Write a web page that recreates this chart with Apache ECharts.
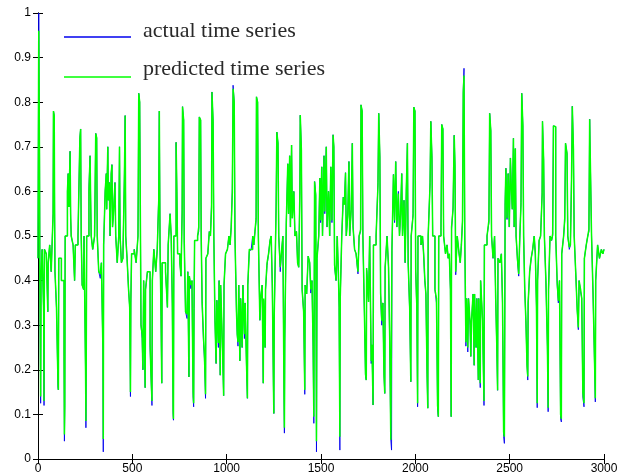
<!DOCTYPE html>
<html><head><meta charset="utf-8">
<script src="https://cdn.jsdelivr.net/npm/echarts@6/dist/echarts.min.js"></script>
<style>html,body{margin:0;padding:0;background:#fff}#c{width:623px;height:475px}</style>
</head><body><div id="c"></div>
<script>
var xTicks = [0, 500, 1000, 1500, 2000, 2500, 3000];
var yTicks = ['0', '0.1', '0.2', '0.3', '0.4', '0.5', '0.6', '0.7', '0.8', '0.9', '1'];
var seriesNames = ['actual time series', 'predicted time series'];

// segment A: t = 0 .. 752
var timesA = [0,3,4,8,10,13,14,16,22,30, 32,34,44,52,54,62,70,80,82,86, 88,90,98,106,108,110,124,138,140,142, 144,156,160,164,170,173,176,186,194,198, 212,222,226,229,234,242,244,252,254,256, 258,270,276,279,282,290,300,306,311,314, 322,330,336,344,346,348,356,362,364,370, 373,378,382,388,392,395,400,408,412,420, 428,432,435,442,450,458,462,465,472,480, 486,490,492,496,510,520,530,534,539,542, 546,552,556,560,568,570,580,594,598,604, 606,614,624,632,640,643,647,652,656,658, 676,686,690,700,706,712,716,718,720,732, 736,740,752];
var actualA = [.45,.86,1.0,.69,.40,.20,.125,.40,.47,.33, .12,.47,.46,.33,.44,.48,.42,.55,.78,.77, .55,.42,.34,.16,.155,.45,.40,.23,.04,.12, .50,.60,.64,.565,.69,.54,.50,.48,.40,.48, .50,.72,.74,.50,.39,.38,.50,.20,.07,.25, .50,.61,.68,.58,.50,.47,.50,.73,.72,.50, .42,.405,.44,.24,.016,.48,.60,.64,.56,.70, .58,.62,.50,.64,.66,.52,.55,.62,.50,.44, .50,.70,.50,.44,.45,.64,.77,.50,.45,.38, .34,.14,.35,.46,.47,.44,.50,.82,.80,.58, .30,.27,.20,.40,.16,.38,.42,.25,.20,.12, .40,.47,.42,.47,.59,.78,.47,.32,.17,.44, .42,.34,.48,.55,.50,.34,.10,.087,.50,.71, .60,.46,.44];
var predictedA = [.45,.84,.96,.68,.40,.20,.14,.40,.47,.33, .13,.47,.46,.33,.44,.48,.42,.55,.78,.77, .55,.42,.34,.17,.155,.45,.40,.24,.055,.12, .50,.60,.64,.565,.69,.55,.50,.48,.40,.48, .50,.72,.74,.50,.39,.38,.50,.20,.085,.25, .50,.60,.68,.58,.50,.47,.50,.73,.72,.50, .42,.415,.44,.25,.045,.48,.60,.64,.56,.70, .58,.62,.50,.64,.66,.52,.55,.62,.50,.44, .50,.70,.50,.44,.45,.63,.77,.50,.45,.38, .34,.15,.35,.46,.47,.44,.50,.82,.80,.58, .30,.28,.20,.40,.16,.38,.42,.26,.20,.13, .40,.47,.42,.47,.58,.78,.47,.33,.17,.44, .42,.34,.48,.55,.50,.35,.11,.09,.50,.71, .60,.46,.44];

// segment B: t = 758 .. 1479
var timesB = [758,764,766,772,775,782,790,794,800,802, 810,816,822,825,827,830,846,852,855,862, 865,870,878,882,888,890,900,908,914,920, 922,928,932,938,944,948,956,960,966,968, 978,984,986,994,1004,1012,1018,1024,1030,1034, 1040,1044,1052,1056,1060,1064,1070,1074,1082,1086, 1094,1098,1106,1110,1112,1120,1130,1138,1144,1150, 1156,1158,1164,1168,1176,1180,1188,1194,1196,1204, 1206,1214,1222,1230,1236,1242,1248,1250,1252,1262, 1266,1272,1276,1284,1290,1298,1304,1306,1308,1316, 1324,1328,1334,1338,1344,1348,1356,1362,1370,1376, 1382,1388,1390,1396,1400,1408,1414,1416,1424,1432, 1440,1446,1452,1458,1462,1466,1472,1476,1479];
var actualB = [.41,.56,.79,.76,.49,.33,.315,.42,.184,.41, .382,.40,.139,.117,.337,.49,.50,.51,.767,.76, .50,.35,.256,.226,.136,.45,.46,.51,.50,.574, .823,.757,.50,.311,.214,.356,.25,.40,.188,.39, .24,.142,.39,.46,.47,.50,.48,.52,.606,.838, .80,.50,.33,.28,.253,.39,.22,.36,.25,.39, .27,.35,.19,.136,.39,.465,.47,.50,.48,.51, .535,.812,.80,.50,.311,.36,.39,.17,.356,.25, .38,.434,.46,.49,.50,.382,.155,.102,.31,.567, .733,.708,.50,.42,.46,.50,.132,.058,.263,.53, .662,.55,.68,.52,.704,.54,.60,.50,.51,.44, .43,.605,.771,.693,.38,.33,.145,.39,.37,.455, .44,.372,.40,.253,.08,.622,.594,.016,.45];
var predictedB = [.41,.55,.79,.76,.49,.33,.325,.42,.184,.41, .39,.40,.15,.125,.337,.49,.50,.52,.767,.76, .50,.35,.265,.235,.145,.45,.46,.51,.50,.565, .823,.757,.50,.311,.214,.356,.26,.40,.188,.39, .25,.142,.39,.46,.47,.50,.48,.52,.598,.83, .80,.50,.33,.28,.262,.39,.22,.36,.25,.39, .28,.35,.20,.136,.39,.47,.47,.50,.48,.51, .54,.812,.80,.50,.311,.36,.39,.17,.36,.25, .38,.44,.46,.49,.50,.39,.165,.102,.32,.56, .733,.708,.50,.43,.46,.50,.14,.07,.27,.53, .662,.55,.68,.52,.704,.54,.60,.50,.51,.44, .43,.598,.771,.693,.38,.33,.155,.39,.37,.455, .44,.38,.40,.262,.095,.622,.59,.04,.45];

// segment C: t = 1488 .. 2214
var timesC = [1488,1494,1498,1504,1508,1516,1520,1528,1532,1540, 1546,1552,1558,1564,1568,1572,1580,1586,1592,1596, 1600,1602,1610,1618,1624,1630,1634,1642,1648,1652, 1660,1666,1670,1678,1686,1690,1696,1702,1710,1712, 1718,1722,1730,1736,1740,1742,1752,1758,1766,1770, 1776,1778,1792,1802,1806,1812,1816,1822,1828,1834, 1838,1840,1850,1858,1864,1870,1874,1876,1884,1890, 1896,1902,1910,1916,1922,1928,1932,1940,1946,1952, 1958,1962,1970,1976,1978,1988,1992,1998,2002,2008, 2012,2014,2030,2038,2044,2050,2056,2062,2066,2068, 2078,2082,2088,2092,2104,2112,2118,2122,2124,2136, 2140,2146,2150,2160,2168,2174,2180,2186,2190,2192, 2200,2206,2210,2214];
var actualC = [.50,.63,.53,.655,.50,.68,.55,.70,.52,.60, .50,.655,.53,.727,.70,.43,.40,.50,.415,.34, .02,.36,.50,.587,.576,.642,.50,.546,.667,.50, .56,.708,.52,.47,.46,.44,.415,.50,.51,.794, .78,.50,.33,.184,.177,.423,.352,.50,.214,.256, .121,.48,.50,.62,.775,.677,.367,.30,.35,.188, .147,.43,.50,.43,.266,.043,.02,.468,.638,.53, .667,.52,.60,.50,.55,.64,.50,.58,.44,.60, .708,.44,.33,.173,.50,.55,.789,.78,.42,.33, .117,.50,.48,.50,.46,.40,.37,.19,.114,.50, .62,.757,.68,.50,.38,.35,.11,.095,.50,.52, .75,.74,.50,.46,.48,.45,.46,.38,.095,.515, .565,.726,.66,.413];
var predictedC = [.50,.63,.535,.655,.50,.68,.555,.70,.52,.60, .50,.655,.535,.727,.70,.435,.40,.50,.42,.345, .05,.36,.50,.587,.57,.642,.50,.55,.667,.50, .56,.708,.52,.47,.46,.445,.42,.50,.515,.794, .78,.50,.33,.19,.177,.428,.352,.50,.22,.256, .121,.48,.50,.615,.775,.677,.372,.31,.35,.188, .147,.43,.50,.43,.275,.043,.04,.472,.638,.535, .667,.52,.595,.50,.55,.64,.50,.58,.44,.60, .708,.44,.34,.173,.50,.545,.789,.78,.425,.34, .125,.50,.48,.50,.46,.405,.37,.20,.114,.50, .615,.757,.675,.50,.38,.36,.12,.095,.50,.515, .75,.74,.50,.46,.48,.45,.46,.38,.095,.52, .56,.726,.66,.42];

// segment D: t = 2222 .. 3000
var timesD = [2222,2232,2238,2244,2250,2254,2258,2262,2268,2272, 2278,2282,2290,2294,2298,2306,2312,2314,2322,2326, 2334,2336,2344,2346,2356,2364,2366,2380,2390,2394, 2400,2404,2412,2420,2426,2432,2436,2438,2448,2456, 2462,2468,2472,2476,2480,2486,2492,2498,2504,2508, 2514,2520,2524,2530,2534,2542,2548,2554,2560,2564, 2570,2574,2580,2586,2592,2596,2598,2606,2614,2622, 2630,2636,2642,2646,2648,2656,2664,2672,2674,2680, 2684,2692,2700,2704,2706,2714,2722,2728,2732,2740, 2744,2752,2758,2764,2770,2774,2776,2786,2792,2796, 2804,2808,2816,2822,2828,2832,2838,2842,2850,2858, 2864,2868,2876,2882,2888,2894,2896,2906,2914,2920, 2924,2930,2934,2942,2948,2954,2956,2966,2976,2986, 2994,3000];
var actualD = [.50,.46,.44,.48,.531,.827,.876,.50,.253,.36, .24,.36,.30,.23,.31,.37,.21,.37,.25,.36, .177,.36,.16,.40,.31,.12,.48,.50,.53,.775, .736,.50,.45,.50,.36,.24,.154,.45,.44,.46, .35,.05,.035,.575,.652,.537,.64,.52,.675,.617, .56,.719,.52,.696,.50,.44,.41,.50,.575,.82, .747,.50,.38,.31,.21,.177,.35,.42,.45,.47, .50,.46,.34,.115,.40,.49,.50,.597,.757,.671, .50,.40,.253,.106,.38,.50,.49,.50,.747,.745, .50,.39,.35,.40,.09,.083,.46,.50,.535,.708, .685,.50,.47,.48,.633,.791,.695,.50,.42,.334, .29,.40,.375,.36,.139,.117,.45,.48,.50,.51, .762,.76,.50,.37,.248,.128,.40,.48,.45,.47, .46,.47];
var predictedD = [.50,.46,.44,.48,.535,.82,.86,.50,.262,.36, .25,.36,.31,.23,.31,.37,.21,.37,.25,.36, .177,.36,.17,.40,.315,.13,.48,.50,.535,.775, .736,.50,.45,.50,.36,.25,.154,.45,.44,.46, .355,.06,.05,.57,.652,.54,.64,.52,.675,.617, .56,.719,.52,.696,.50,.445,.415,.50,.57,.82, .747,.50,.38,.31,.21,.185,.35,.42,.45,.47, .50,.46,.345,.125,.40,.49,.50,.592,.757,.671, .50,.40,.253,.115,.38,.50,.49,.505,.747,.745, .50,.395,.355,.40,.10,.09,.46,.50,.54,.708, .685,.50,.475,.48,.628,.791,.695,.50,.42,.334, .295,.40,.38,.36,.148,.125,.45,.48,.50,.515, .762,.76,.50,.37,.255,.136,.40,.48,.45,.47, .46,.47];

var times = timesA.concat(timesB, timesC, timesD);
var actual = actualA.concat(actualB, actualC, actualD);
var predicted = predictedA.concat(predictedB, predictedC, predictedD);

var seriesColors = ['#0000ee', '#00ff00'];

function pairs(xs, ys) {
  var out = [];
  for (var i = 0; i < xs.length && i < ys.length; i++) out.push([xs[i], ys[i]]);
  return out;
}

var chart = echarts.init(document.getElementById('c'), null, {renderer: 'canvas'});
var tickFont = {fontFamily: 'Liberation Sans', fontSize: 12, color: '#000'};
var legendFont = '22px "Liberation Serif"';
chart.setOption({
  animation: false,
  backgroundColor: '#fff',
  grid: {left: 38, right: 19, top: 13, bottom: 16, containLabel: false},
  legend: {show: false},
  graphic: [
    {type: 'line', shape: {x1: 64, y1: 37, x2: 131, y2: 37}, style: {stroke: seriesColors[0], lineWidth: 1.5}, z: 100},
    {type: 'text', x: 143, y: 31.5, style: {text: seriesNames[0], font: legendFont, fill: '#2a2a2a', verticalAlign: 'middle'}, z: 100},
    {type: 'line', shape: {x1: 64, y1: 77, x2: 131, y2: 77}, style: {stroke: seriesColors[1], lineWidth: 1.5}, z: 100},
    {type: 'text', x: 143, y: 69.5, style: {text: seriesNames[1], font: legendFont, fill: '#2a2a2a', verticalAlign: 'middle'}, z: 100}
  ],
  xAxis: [{
    type: 'value', min: 0, max: 3000, interval: 500,
    axisLine: {lineStyle: {color: '#000', width: 1}},
    axisTick: {inside: true, length: 5, lineStyle: {color: '#000'}},
    splitLine: {show: false},
    axisLabel: Object.assign({margin: 4, formatter: function (v) { return String(xTicks[xTicks.indexOf(v)]); }}, tickFont)
  }, {
    type: 'value', min: 0, max: 3000, interval: 500, position: 'top',
    axisLine: {lineStyle: {color: '#000', width: 1}},
    axisTick: {inside: true, length: 5, lineStyle: {color: '#000'}},
    splitLine: {show: false}, axisLabel: {show: false}
  }],
  yAxis: [{
    type: 'value', min: 0, max: 1, interval: 0.1,
    axisLine: {show: true, lineStyle: {color: '#000', width: 1}},
    axisTick: {show: true, inside: true, length: 5, lineStyle: {color: '#000'}},
    splitLine: {show: false},
    axisLabel: Object.assign({margin: 7, formatter: function (v) { return yTicks[Math.round(v * 10)]; }}, tickFont)
  }, {
    type: 'value', min: 0, max: 1, interval: 0.1, position: 'right',
    axisLine: {show: true, lineStyle: {color: '#000', width: 1}},
    axisTick: {show: true, inside: true, length: 5, lineStyle: {color: '#000'}},
    splitLine: {show: false}, axisLabel: {show: false}
  }],
  series: [{
    name: seriesNames[0], type: 'line', data: pairs(times, actual), step: 'end',
    showSymbol: false, symbol: 'none', color: seriesColors[0],
    lineStyle: {color: seriesColors[0], width: 0.9}, z: 2
  }, {
    name: seriesNames[1], type: 'line', data: pairs(times, predicted), step: 'end',
    showSymbol: false, symbol: 'none', color: seriesColors[1],
    lineStyle: {color: seriesColors[1], width: 1.5}, z: 3
  }]
});
</script></body></html>
